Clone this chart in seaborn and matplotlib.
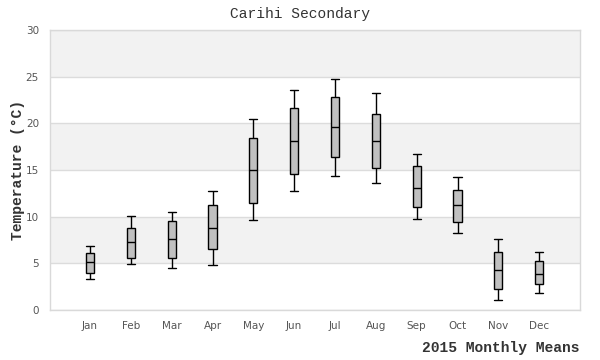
import pandas as pd
import matplotlib
matplotlib.use("Agg")
import matplotlib.pyplot as plt
import seaborn as sns

# Monthly summaries (deg C)
months = ["Jan", "Feb", "Mar", "Apr", "May", "Jun", "Jul", "Aug", "Sep", "Oct", "Nov", "Dec"]
lows = [3.3, 4.9, 4.5, 4.8, 9.6, 12.7, 14.4, 13.6, 9.8, 8.2, 1.1, 1.8]
q1s = [4.0, 5.6, 5.6, 6.5, 11.5, 14.6, 16.4, 15.2, 11.0, 9.4, 2.3, 2.75]
medians = [5.1, 7.25, 7.6, 8.8, 15.0, 18.1, 19.6, 18.1, 13.1, 11.2, 4.25, 3.9]
q3s = [6.1, 8.8, 9.5, 11.2, 18.4, 21.6, 22.8, 21.0, 15.4, 12.9, 6.2, 5.2]
highs = [6.9, 10.1, 10.5, 12.7, 20.5, 23.6, 24.8, 23.2, 16.75, 14.2, 7.6, 6.2]

# five points per month give exactly these quartiles
rows = []
for i, m in enumerate(months):
    for v in (lows[i], q1s[i], medians[i], q3s[i], highs[i]):
        rows.append({"month": m, "temp": v})
df = pd.DataFrame(rows)

sns.set_style("white")
mono = ["Liberation Mono", "DejaVu Sans Mono"]

fig = plt.figure(figsize=(6, 3.6), dpi=100)
ax = fig.add_axes([50 / 600, 50 / 360, 530 / 600, 280 / 360])

# alternating bands
for lo in (5, 15, 25):
    ax.axhspan(lo, lo + 5, color="#f2f2f2", zorder=0, lw=0)
for y in range(0, 31, 5):
    ax.axhline(y, color="#dcdcdc", lw=1, zorder=0.5)

sns.boxplot(data=df, x="month", y="temp", order=months, ax=ax,
            width=0.2, whis=(0, 100), color="#c0c0c0", linecolor="black",
            linewidth=1, capwidths=0.2, showfliers=False,
            boxprops={"facecolor": "#c0c0c0", "zorder": 2})

ax.set_xlim(-0.98, 12)
ax.set_ylim(0, 30)
ax.set_yticks(range(0, 31, 5))
for s in ax.spines.values():
    s.set_color("#d9d9d9")
    s.set_linewidth(1)
ax.tick_params(axis="both", length=0, labelsize=7.5, labelcolor="#555555", pad=8)
ax.set_xlabel("")
ax.set_ylabel("Temperature (°C)", family=mono, fontweight="bold",
              fontsize=10.5, color="#333333")
ax.yaxis.set_label_coords(-25 / 530, 0.5)

fig.text(0.5, 1 - 14 / 360, "Carihi Secondary", ha="center", va="center",
         family=mono, fontsize=10.5, color="#333333")
fig.text(579 / 600, 1 - 348 / 360, "2015 Monthly Means", ha="right", va="center",
         family=mono, fontweight="bold", fontsize=10.5, color="#333333")

fig.savefig("out.png", dpi=100)
